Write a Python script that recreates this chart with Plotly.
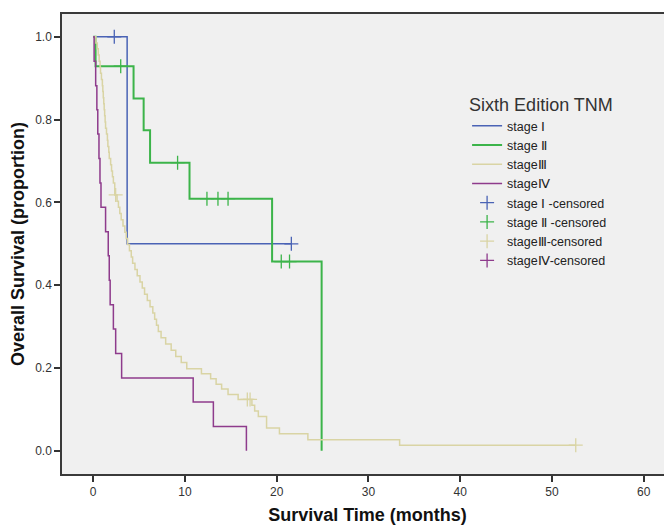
import plotly.graph_objects as go

# ---- data ----
stage1_times = [3.7]
stage1_surv = [0.5]
stage1_censor = [2.3, 21.6]

stage2_times = [0.26, 4.4, 5.5, 6.2, 10.5, 19.5, 24.9]
stage2_surv = [0.929, 0.851, 0.774, 0.696, 0.609, 0.457, 0.0]
stage2_censor = [3.0, 9.2, 12.4, 13.6, 14.7, 20.5, 21.4]

stage3_times = [0.3, 0.45, 0.55, 0.65, 0.75, 0.8, 0.9, 1.0, 1.05, 1.1, 1.15, 1.2,
                1.25, 1.3, 1.35, 1.45, 1.55, 1.6, 1.7, 1.75, 1.9, 2.0, 2.1, 2.2,
                2.35, 2.6, 2.75, 2.9, 3.05, 3.25, 3.45, 3.6, 3.75, 3.95, 4.15, 4.3,
                4.55, 4.8, 5.1, 5.35, 5.6, 5.9, 6.2, 6.5, 6.7, 6.9, 7.1, 7.4, 7.9,
                8.5, 9.0, 9.6, 10.2, 11.8, 12.8, 13.4, 14.0, 14.7, 15.8, 17.3, 17.6,
                18.0, 18.9, 20.3, 23.4, 33.4]
stage3_surv = [0.985, 0.971, 0.956, 0.941, 0.926, 0.912, 0.897, 0.882, 0.868, 0.853,
               0.838, 0.824, 0.809, 0.794, 0.779, 0.765, 0.750, 0.735, 0.721, 0.706,
               0.691, 0.676, 0.662, 0.647, 0.618, 0.603, 0.588, 0.573, 0.558, 0.543,
               0.528, 0.513, 0.498, 0.483, 0.468, 0.453, 0.438, 0.423, 0.408, 0.393,
               0.378, 0.363, 0.348, 0.333, 0.318, 0.303, 0.288, 0.273, 0.258, 0.243,
               0.228, 0.213, 0.198, 0.186, 0.174, 0.161, 0.149, 0.136, 0.124, 0.110,
               0.096, 0.083, 0.055, 0.041, 0.027, 0.0135]
stage3_censor = [2.45, 16.8, 17.1, 52.6]

stage4_times = [0.1, 0.27, 0.4, 0.5, 0.63, 0.74, 0.85, 1.35, 1.64, 1.75, 1.85,
                2.2, 2.45, 3.1, 10.9, 13.1, 16.7]
stage4_surv = [0.941, 0.882, 0.824, 0.765, 0.706, 0.647, 0.588, 0.529, 0.471,
               0.412, 0.353, 0.294, 0.235, 0.176, 0.118, 0.059, 0.0]
stage4_censor = []

names = ["stage Ⅰ", "stage Ⅱ", "stageⅢ", "stageⅣ"]
censor_names = ["stage Ⅰ -censored", "stage Ⅱ -censored", "stageⅢ-censored", "stageⅣ-censored"]
colors = ["#4a63b5", "#3cb44a", "#d9d4a4", "#8e3b8c"]
widths = [1.5, 2, 1.5, 1.5]

x_ticks = [0, 10, 20, 30, 40, 50, 60]
y_ticks = [0.0, 0.2, 0.4, 0.6, 0.8, 1.0]

stages = [
    (stage1_times, stage1_surv, stage1_censor),
    (stage2_times, stage2_surv, stage2_censor),
    (stage3_times, stage3_surv, stage3_censor),
    (stage4_times, stage4_surv, stage4_censor),
]


def surv_at(times, survs, t):
    s = 1.0
    for ti, si in zip(times, survs):
        if ti <= t:
            s = si
    return s


fig = go.Figure()
for (times, survs, cens), name, col, w in zip(stages, names, colors, widths):
    xs = [0.0] + list(times)
    ys = [1.0] + list(survs)
    if cens and max(cens) > xs[-1]:
        xs.append(max(cens))
        ys.append(surv_at(times, survs, max(cens)))
    fig.add_trace(go.Scatter(x=xs, y=ys, mode="lines",
                             line=dict(color=col, width=w, shape="hv"), name=name))

for (times, survs, cens), name, col in zip(stages, censor_names, colors):
    cx = list(cens) if cens else [None]
    cy = [surv_at(times, survs, c) for c in cens] if cens else [None]
    fig.add_trace(go.Scatter(x=cx, y=cy, mode="markers",
                             marker=dict(symbol="cross-thin-open", size=10,
                                         line=dict(color=col, width=1.3), color=col),
                             name=name))

axis_font = dict(family="Liberation Sans, Arial, sans-serif", size=12, color="#333333")
fig.update_layout(
    template="none",
    width=672, height=525,
    margin=dict(l=54, r=7, t=6, b=59),
    paper_bgcolor="white",
    plot_bgcolor="#f0f0f0",
    font=dict(family="Liberation Sans, Arial, sans-serif", color="#222222"),
    showlegend=True,
    legend=dict(
        x=0.663, y=0.84, xanchor="left", yanchor="top",
        bgcolor="rgba(0,0,0,0)", borderwidth=0,
        font=dict(size=12.5, color="#222222"),
        title=dict(text="Sixth Edition TNM", font=dict(size=18, color="#333333")),
        tracegroupgap=0,
        itemwidth=30,
    ),
    xaxis=dict(
        range=[-3.4, 63.2], tickvals=x_ticks,
        ticks="outside", ticklen=6, tickwidth=1.5, tickcolor="#333333", tickfont=axis_font,
        showgrid=False, zeroline=False, automargin=False,
        showline=True, linecolor="#3a3a3a", linewidth=1.5, mirror=True,
        title=dict(text="<b>Survival Time (months)</b>",
                   font=dict(size=18, color="#111111"), standoff=10),
    ),
    yaxis=dict(
        range=[-0.056, 1.055], tickvals=y_ticks, tickformat=".1f",
        ticks="outside", ticklen=6, tickwidth=1.5, tickcolor="#333333", tickfont=axis_font,
        showgrid=False, zeroline=False, automargin=False,
        showline=True, linecolor="#3a3a3a", linewidth=1.5, mirror=True,
        title=dict(text="<b>Overall Survival (proportion)</b>",
                   font=dict(size=18, color="#111111"), standoff=6),
    ),
)

fig.write_html("out.html")
